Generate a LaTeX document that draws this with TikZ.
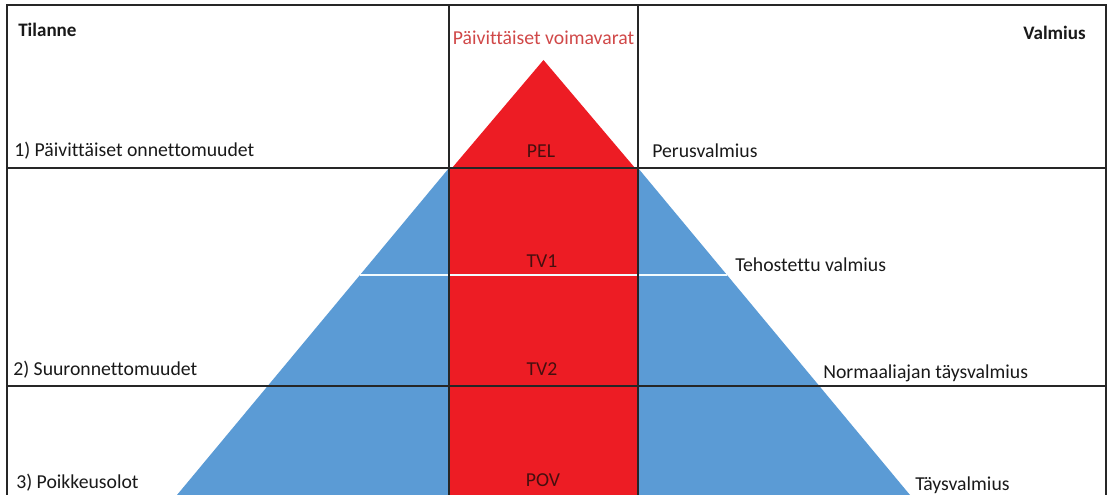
\documentclass[tikz,border=0pt]{standalone}
\usepackage{fontspec}
\setmainfont{Carlito}[Ligatures=NoCommon]
\definecolor{pyrblue}{RGB}{91,155,213}
\definecolor{pyrred}{RGB}{237,28,36}
\definecolor{headred}{RGB}{208,72,72}
\definecolor{ink}{RGB}{25,25,25}
\definecolor{onred}{RGB}{70,15,15}
\tikzset{
  lbl/.style={anchor=base west, inner sep=0pt, text=ink, font=\fontsize{14.8}{17}\selectfont},
  head/.style={lbl, font=\fontsize{14.3}{17}\selectfont\bfseries},
  lvl/.style={anchor=base, inner sep=0pt, text=onred, font=\fontsize{14.8}{17}\selectfont},
  rule/.style={draw=black!85, line width=0.9pt},
  frame/.style={draw=black!85, line width=1.6pt},
}
\begin{document}
\begin{tikzpicture}[x=0.75pt, y=-0.75pt]
\useasboundingbox (0,0) rectangle (1111,495);
% blue pyramid body
\fill[pyrblue] (449,168) -- (638,168) -- (910,495) -- (177,495) -- cycle;
% red column and its peak
\fill[pyrred] (449,168) rectangle (638,495);
\fill[pyrred] (543.5,60) -- (635,168) -- (452,168) -- cycle;
% thin white divider between TV1 and TV2
\draw[white!95!cyan, line width=1pt] (360,275) -- (727,275);
% table rules
\draw[rule] (7,168) -- (1106,168);
\draw[rule] (7,386) -- (1106,386);
\draw[rule] (449,5) -- (449,495);
\draw[rule] (638,5) -- (638,495);
% outer frame
\draw[frame] (7,495) -- (7,5) -- (1106,5) -- (1106,495);
% left column: situations
\node[head] (tilanne) at (18,37) {Tilanne};
\node[lbl] (s1) at (14,157) {1) Päivittäiset onnettomuudet};
\node[lbl] (s2) at (13,376) {2) Suuronnettomuudet};
\node[lbl] (s3) at (16,488) {3) Poikkeusolot};
% middle column: resources and levels
\node[lbl, anchor=base, text=headred] (voima) at (543.5,45) {Päivittäiset voimavarat};
\node[lvl] (pel) at (541,158) {PEL};
\node[lvl] (tv1) at (542,268) {TV1};
\node[lvl] (tv2) at (542,376) {TV2};
\node[lvl] (pov) at (543,486) {POV};
% right column: readiness
\node[head, anchor=base east] (valmius) at (1086,40) {Valmius};
\node[lbl] (r1) at (652,158) {Perusvalmius};
\node[lbl] (r2) at (735,272) {Tehostettu valmius};
\node[lbl] (r3) at (823,379) {Normaaliajan täysvalmius};
\node[lbl] (r4) at (915,490) {Täysvalmius};
\end{tikzpicture}
\end{document}
